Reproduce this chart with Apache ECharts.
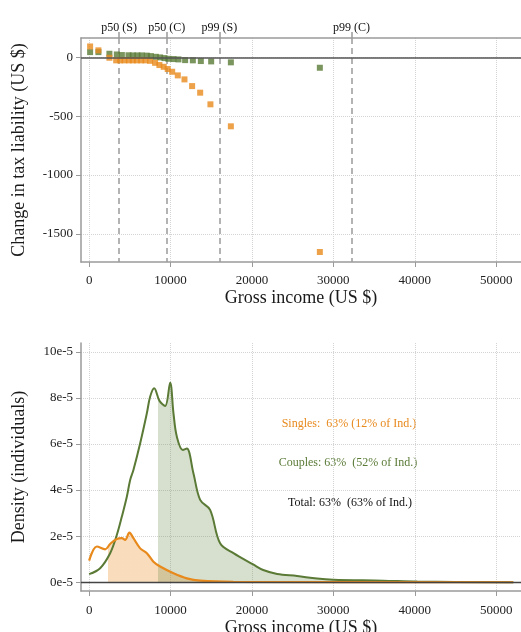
<!DOCTYPE html>
<html><head><meta charset="utf-8">
<script src="https://cdn.jsdelivr.net/npm/echarts@6/dist/echarts.min.js"></script>
<style>html,body{margin:0;padding:0;background:#fff}#c{width:521px;height:632px}</style>
</head><body><div id="c"></div>
<script>
const FONT = 'Liberation Serif';
const ORANGE = '#e8891c';
const GREEN = '#5a7a36';

// ---- Top panel: change in tax liability (US $) by gross income
const singlesIncome = [120, 1140, 2490, 3320, 3810, 4340, 4880, 5370, 5860, 6390, 6920, 7480, 8100, 8630, 9160, 9650, 10200, 10890, 11710, 12650, 13640, 14900, 17410, 28340];
const singlesChange = [93, 60, -3, -25, -25, -25, -25, -25, -25, -25, -25, -29, -46, -65, -80, -99, -122, -153, -187, -244, -300, -399, -586, -1655];
const couplesIncome = [120, 1140, 2490, 3400, 4020, 4830, 5370, 5930, 6470, 7090, 7580, 8190, 8720, 9250, 9740, 10360, 10970, 11790, 12740, 13720, 14990, 17410, 28340];
const couplesChange = [45, 45, 31, 25, 20, 18, 17, 17, 17, 15, 11, 5, 0, -6, -12, -14, -17, -23, -25, -31, -34, -42, -88];
const pctValues = [3680, 9530, 16000, 32230];
const pctLabels = ['p50 (S)', 'p50 (C)', 'p99 (S)', 'p99 (C)'];
const xTicks = [0, 10000, 20000, 30000, 40000, 50000];
const yTicksTop = [-1500, -1000, -500, 0];

// ---- Bottom panel: density (units of 1e-5)
const densCouplesIncome = [0, 1350, 2580, 3400, 4020, 4630, 5040, 5440, 6270, 7090, 7490, 7990, 8640, 9340, 9950, 10360, 10770, 11510, 12000, 12810, 13640, 14860, 16090, 17730, 20150, 21380, 23100, 25550, 28000, 29980, 36100, 40300, 52100];
const densCouples = [0.35, 0.61, 1.26, 2.05, 2.85, 3.71, 4.44, 4.87, 6.03, 7.33, 8.05, 8.42, 7.87, 7.65, 8.66, 7.33, 6.32, 5.74, 5.8, 4.73, 3.57, 3.14, 1.69, 1.26, 0.77, 0.53, 0.36, 0.27, 0.16, 0.11, 0.07, 0.03, 0.0];
const densSinglesIncome = [0, 950, 1970, 2580, 3400, 4020, 4420, 4950, 5440, 6270, 7090, 7900, 8720, 10360, 12000, 13640, 17700, 52100];
const densSingles = [0.94, 1.55, 1.43, 1.66, 1.88, 1.91, 1.84, 2.15, 1.91, 1.47, 1.26, 0.89, 0.68, 0.39, 0.17, 0.07, 0.02, 0.0];
const yTicksBottom = [0, 2, 4, 6, 8, 10];
const singlesShadeFrom = 2370;
const couplesShadeFrom = 8510;
const noteTexts = ['Singles:  63% (12% of Ind.)', 'Couples: 63%  (52% of Ind.)', 'Total: 63%  (63% of Ind.)'];

const zip = (a, b) => a.map((v, i) => [v, b[i]]);
const lbl = {fontFamily: FONT, fontSize: 13, color: '#222'};
const nameStyle = {fontFamily: FONT, fontSize: 18, color: '#1a1a1a'};
const axisLineStyle = {color: '#9a9a9a', width: 1.5};
const dotted = {type: 'dotted', color: '#d4d4d4', width: 1};
const plain = v => String(Math.round(v));

const chart = echarts.init(document.getElementById('c'), null, {renderer: 'canvas'});
const option = {
  animation: false,
  backgroundColor: '#fff',
  grid: [
    {left: 81, right: 0, top: 38, height: 224, outerBoundsMode: 'none', containLabel: false},
    {left: 81, right: 0, top: 343, height: 248, outerBoundsMode: 'none', containLabel: false}
  ],
  xAxis: [
    {gridIndex: 0, type: 'value', min: -1000, max: 53050, position: 'bottom',
     axisLine: {show: true, onZero: false, lineStyle: axisLineStyle},
     axisTick: {show: true, customValues: xTicks, length: 5, lineStyle: {color: '#9a9a9a'}},
     axisLabel: {customValues: xTicks, margin: 12, ...lbl, formatter: plain},
     splitLine: {show: true, lineStyle: dotted},
     name: 'Gross income (US $)', nameLocation: 'middle', nameGap: 27, nameTextStyle: nameStyle},
    {gridIndex: 0, type: 'value', min: -1000, max: 53050, position: 'top',
     axisLine: {show: true, onZero: false, lineStyle: axisLineStyle},
     axisTick: {show: true, customValues: pctValues, length: 6, lineStyle: {color: '#9a9a9a', width: 1.5}},
     axisLabel: {customValues: pctValues, margin: 4, fontFamily: FONT, fontSize: 12, color: '#111',
       formatter: v => { let k = 0, d = Infinity; pctValues.forEach((p, i) => { if (Math.abs(p - v) < d) { d = Math.abs(p - v); k = i; } }); return pctLabels[k]; }},
     splitLine: {show: true, lineStyle: {type: [6, 4], color: '#9a9a9a', width: 1.5}}},
    {gridIndex: 1, type: 'value', min: -1000, max: 53050,
     axisLine: {show: true, onZero: false, lineStyle: axisLineStyle},
     axisTick: {show: true, customValues: xTicks, length: 5, lineStyle: {color: '#9a9a9a'}},
     axisLabel: {customValues: xTicks, margin: 13, ...lbl, formatter: plain},
     splitLine: {show: true, lineStyle: dotted},
     name: 'Gross income (US $)', nameLocation: 'middle', nameGap: 28, nameTextStyle: nameStyle}
  ],
  yAxis: [
    {gridIndex: 0, type: 'value', min: -1740, max: 165,
     axisLine: {show: true, onZero: false, lineStyle: axisLineStyle},
     axisTick: {show: true, customValues: yTicksTop, length: 5, lineStyle: {color: '#9a9a9a'}},
     axisLabel: {customValues: yTicksTop, margin: 8, ...lbl, formatter: plain},
     splitLine: {show: true, lineStyle: dotted},
     name: 'Change in tax liability (US $)', nameLocation: 'middle', nameGap: 53, nameTextStyle: nameStyle},
    {gridIndex: 1, type: 'value', min: -0.38, max: 10.38,
     axisLine: {show: true, onZero: false, lineStyle: axisLineStyle},
     axisTick: {show: true, customValues: yTicksBottom, length: 5, lineStyle: {color: '#9a9a9a'}},
     axisLabel: {customValues: yTicksBottom, margin: 8, ...lbl, formatter: v => Math.round(v) + 'e-5'},
     splitLine: {show: true, lineStyle: dotted},
     name: 'Density (individuals)', nameLocation: 'middle', nameGap: 53, nameTextStyle: nameStyle}
  ],
  series: [
    {type: 'scatter', xAxisIndex: 0, yAxisIndex: 0, data: zip(couplesIncome, couplesChange),
     symbol: 'rect', symbolSize: 6, itemStyle: {color: GREEN},
     markLine: {silent: true, symbol: 'none', label: {show: false},
       lineStyle: {color: '#555', width: 1.6, type: 'solid'}, data: [{yAxis: 0}]}},
    {type: 'scatter', xAxisIndex: 0, yAxisIndex: 0, data: zip(singlesIncome, singlesChange),
     symbol: 'rect', symbolSize: 6, itemStyle: {color: ORANGE}},
    {id: 'singlesFill', type: 'line', xAxisIndex: 2, yAxisIndex: 1, data: zip(densSinglesIncome, densSingles),
     smooth: 0.35, showSymbol: false, symbol: 'none', lineStyle: {width: 0, opacity: 0},
     areaStyle: {opacity: 1, color: 'rgba(0,0,0,0)'}, z: 1},
    {id: 'couplesFill', type: 'line', xAxisIndex: 2, yAxisIndex: 1, data: zip(densCouplesIncome, densCouples),
     smooth: 0.35, showSymbol: false, symbol: 'none', lineStyle: {width: 0, opacity: 0},
     areaStyle: {opacity: 1, color: 'rgba(0,0,0,0)'}, z: 1},
    {type: 'line', xAxisIndex: 2, yAxisIndex: 1, data: zip(densCouplesIncome, densCouples),
     smooth: 0.35, showSymbol: false, symbol: 'none', lineStyle: {width: 2, color: GREEN}, itemStyle: {color: GREEN}, z: 3,
     markLine: {silent: true, symbol: 'none', label: {show: false},
       lineStyle: {color: '#444', width: 1.4, type: 'solid'}, data: [{yAxis: 0}]}},
    {type: 'line', xAxisIndex: 2, yAxisIndex: 1, data: zip(densSinglesIncome, densSingles),
     smooth: 0.35, showSymbol: false, symbol: 'none', lineStyle: {width: 2.2, color: ORANGE}, itemStyle: {color: ORANGE}, z: 4}
  ],
  graphic: [
    {type: 'text', x: 349, y: 424, style: {text: noteTexts[0], fill: ORANGE, font: '12px "Liberation Serif"', textAlign: 'center', textVerticalAlign: 'middle'}},
    {type: 'text', x: 348, y: 463, style: {text: noteTexts[1], fill: GREEN, font: '12px "Liberation Serif"', textAlign: 'center', textVerticalAlign: 'middle'}},
    {type: 'text', x: 350, y: 503, style: {text: noteTexts[2], fill: '#111', font: '12px "Liberation Serif"', textAlign: 'center', textVerticalAlign: 'middle'}}
  ]
};
chart.setOption(option);

// Shade from a given income onwards using a horizontal gradient with a hard stop
const W = 521;
function shade(fromIncome, color) {
  const px = chart.convertToPixel({xAxisIndex: 2}, fromIncome);
  const o = Math.min(Math.max(px / W, 0), 1);
  return new echarts.graphic.LinearGradient(0, 0, W, 0, [
    {offset: 0, color: 'rgba(255,255,255,0)'},
    {offset: o, color: 'rgba(255,255,255,0)'},
    {offset: o, color: color},
    {offset: 1, color: color}
  ], true);
}
chart.setOption({series: [
  {id: 'singlesFill', areaStyle: {opacity: 1, color: shade(singlesShadeFrom, 'rgba(236,140,34,0.3)')}},
  {id: 'couplesFill', areaStyle: {opacity: 1, color: shade(couplesShadeFrom, 'rgba(95,128,58,0.25)')}}
]});
</script></body></html>
